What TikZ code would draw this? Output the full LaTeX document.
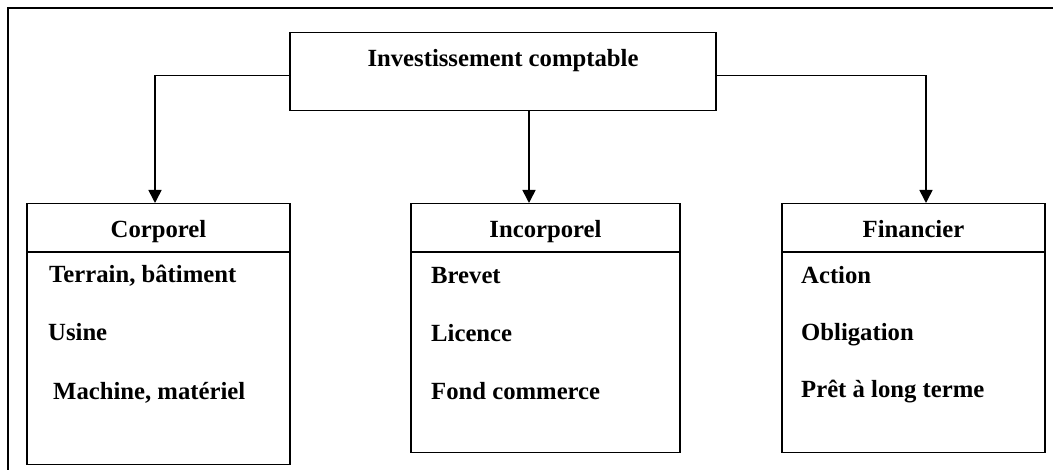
\documentclass[tikz,border=0pt]{standalone}
\usepackage{fontspec}
\setmainfont{Liberation Serif}
\usepackage{tikz}
\usetikzlibrary{positioning, arrows.meta}

\begin{document}
\begin{tikzpicture}[x=1pt, y=1pt,
    font=\bfseries\fontsize{24.7}{29}\selectfont,
    topbox/.style={draw, line width=1.3pt, inner sep=0pt, minimum width=426pt,
      text height=34pt, text depth=44pt},
    headbox/.style={draw, line width=1.3pt, inner sep=0pt, anchor=north,
      text height=33.7pt, text depth=14pt},
    bodybox/.style={draw, line width=1.3pt, inner sep=0pt},
    item/.style={anchor=base west, inner sep=0pt},
    conn/.style={line width=1.6pt, -{Triangle[length=13pt, width=13pt]}}]
  \useasboundingbox (0,0) rectangle (1053,-470);

  % Outer frame
  \draw[line width=2pt] (8,-470) -- (8,-8) -- (1053,-8);

  % Top box
  \node[topbox, anchor=north] (invest) at (503,-32) {Investissement comptable};

  % Corporel
  \node[headbox, minimum width=263pt] (corph) at (158.5,-203) {Corporel};
  \node[bodybox, minimum width=263pt, minimum height=212pt, below=0pt of corph] (corpb) {};
  \node[item] (terrain) at (49,-283) {Terrain, bâtiment};
  \node[item] (usine) at (48,-341) {Usine};
  \node[item] (machine) at (53,-400) {Machine, matériel};

  % Incorporel
  \node[headbox, minimum width=269pt] (incorph) at (545.5,-203) {Incorporel};
  \node[bodybox, minimum width=269pt, minimum height=200pt, below=0pt of incorph] (incorpb) {};
  \node[item] (brevet) at (431,-284) {Brevet};
  \node[item] (licence) at (431,-341.5) {Licence};
  \node[item] (fond) at (431,-400) {Fond commerce};

  % Financier
  \node[headbox, minimum width=263pt] (finh) at (913.5,-203) {Financier};
  \node[bodybox, minimum width=263pt, minimum height=200pt, below=0pt of finh] (finb) {};
  \node[item] (action) at (801,-284) {Action};
  \node[item] (oblig) at (801,-340.5) {Obligation};
  \node[item] (pret) at (801,-398) {Prêt à long terme};

  % Arrows
  \draw[conn] ([yshift=-4pt]invest.west) -| ([xshift=-3.5pt]corph.north);
  \draw[conn] ([xshift=26pt]invest.south) -- ([xshift=-16.5pt]incorph.north);
  \draw[conn] ([yshift=-4pt]invest.east) -| ([xshift=12.5pt]finh.north);
\end{tikzpicture}
\end{document}
